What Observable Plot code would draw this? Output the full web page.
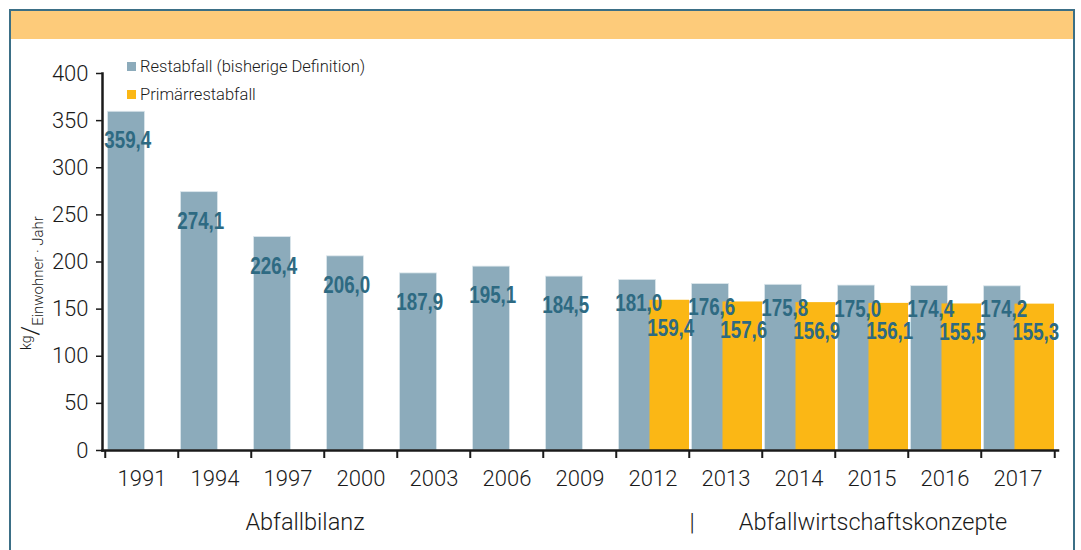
<!DOCTYPE html>
<html>
<head>
<meta charset="utf-8">
<script src="https://cdn.jsdelivr.net/npm/d3@7"></script>
<script src="https://cdn.jsdelivr.net/npm/@observablehq/plot@0.6"></script>
<style>
  html, body { margin: 0; padding: 0; background: #fff; }
  #wrap { position: relative; width: 1081px; height: 550px; overflow: hidden; }
  #frame { position: absolute; left: 9px; top: 9px; width: 1062px; height: 560px;
           border: 2px solid #3b6f86; border-bottom: none; }
  #band { position: absolute; left: 11px; top: 11px; width: 1062px; height: 28px; background: #fdcb7a; }
  #chart { position: absolute; left: 0; top: 0; }
  .leg { position: absolute; font-family: Roboto, "Liberation Sans", sans-serif; font-weight: 300;
         font-size: 16.5px; color: #1a1a1a; white-space: nowrap; line-height: 18px; }
  .leg span.sw { display: inline-block; width: 9px; height: 9px; margin-right: 4px; vertical-align: 1px; }
</style>
</head>
<body>
<div id="wrap">
  <div id="frame"></div>
  <div id="band"></div>
  <div id="chart"></div>
  <div class="leg" style="left:127px; top:58px;"><span class="sw" style="background:#8cabbb"></span>Restabfall (bisherige Definition)</div>
  <div class="leg" style="left:127px; top:86px;"><span class="sw" style="background:#fbb715"></span>Primärrestabfall</div>
</div>
<script>
const years = ["1991","1994","1997","2000","2003","2006","2009","2012","2013","2014","2015","2016","2017"];
const restabfall = [359.4, 274.1, 226.4, 206.0, 187.9, 195.1, 184.5, 181.0, 176.6, 175.8, 175.0, 174.4, 174.2];
const primaerYears = ["2012","2013","2014","2015","2016","2017"];
const primaer = [159.4, 157.6, 156.9, 156.1, 155.5, 155.3];
const yTicks = [0, 50, 100, 150, 200, 250, 300, 350, 400];

const rest = years.map((y, i) => ({year: y, value: restabfall[i], paired: primaerYears.includes(y)}));
const prim = primaerYears.map((y, i) => ({year: y, value: primaer[i]}));
const fmt = v => v.toFixed(1).replace(".", ",");

const grey = "#8cabbb", yellow = "#fbb715", labelColor = "#2e6a82";
const numFont = "'Liberation Sans', Arial, sans-serif";
const tickFont = "Roboto, 'Liberation Sans', sans-serif";
const W = 1081, mL = 102, mR = 23.5;
const bw = (W - mL - mR) / years.length;

const chart = Plot.plot({
  width: W, height: 550,
  marginLeft: mL, marginRight: mR, marginTop: 73, marginBottom: 100,
  style: {background: "transparent", fontFamily: tickFont, color: "#1a1a1a", overflow: "visible"},
  x: {domain: years, padding: 0, axis: null},
  y: {domain: [0, 400], axis: null},
  marks: [
    Plot.barY(rest, {x: "year", y: "value", fill: grey, stroke: "#dbe6ec", strokeWidth: 0.8, insetLeft: 2.5, insetRight: bw - 40}),
    Plot.barY(prim, {x: "year", y: "value", fill: yellow, insetLeft: 33.5, insetRight: 0}),
    Plot.text(rest.filter(d => !d.paired), {x: "year", y: "value", text: d => fmt(d.value), dx: 22.5 - bw / 2, dy: 19.5,
      lineAnchor: "top", fill: labelColor, fontSize: 24, fontWeight: "bold", fontFamily: numFont}),
    Plot.text(rest.filter(d => d.paired), {x: "year", y: "value", text: d => fmt(d.value), dx: 22.5 - bw / 2, dy: 14,
      lineAnchor: "top", fill: labelColor, fontSize: 24, fontWeight: "bold", fontFamily: numFont}),
    Plot.text(prim, {x: "year", y: "value", text: d => fmt(d.value), dx: 54.5 - bw / 2, dy: 19,
      lineAnchor: "top", fill: labelColor, fontSize: 24, fontWeight: "bold", fontFamily: numFont}),
    Plot.axisY({ticks: yTicks, tickSize: 6, tickPadding: 8, tickFormat: d => d, fontSize: 22, fontWeight: 300, label: null, strokeWidth: 1.5}),
    Plot.axisX({tickSize: 8, tickFormat: () => "", dx: -bw / 2, label: null, strokeWidth: 2}),
    Plot.axisX({ticks: ["2017"], tickSize: 8, tickFormat: () => "", dx: bw / 2, label: null, strokeWidth: 2}),
    Plot.axisX({tickSize: 0, tickPadding: 20, fontSize: 22, fontWeight: 300, label: null}),
    Plot.frame({anchor: "left", strokeWidth: 2.5}),
    Plot.frame({anchor: "bottom", strokeWidth: 2.5})
  ]
});
document.getElementById("chart").appendChild(chart);

const svg = d3.select(chart);
// condensed look for the value labels
svg.selectAll('g[aria-label="text"] text')
  .attr("textLength", 47)
  .attr("lengthAdjust", "spacingAndGlyphs");

// y-axis unit label
const yl = svg.append("text")
  .attr("transform", "translate(38,283) rotate(-90)")
  .attr("text-anchor", "middle")
  .attr("font-family", tickFont)
  .attr("font-weight", 300)
  .attr("fill", "#1a1a1a");
yl.append("tspan").attr("font-size", 14).attr("dy", -7).text("kg");
yl.append("tspan").attr("font-size", 24).attr("dy", 7).text("/");
yl.append("tspan").attr("font-size", 15).attr("dy", 5).text("Einwohner · Jahr");

// group labels below the axis
const grp = [["Abfallbilanz", 305], ["|", 692], ["Abfallwirtschaftskonzepte", 873]];
svg.append("g").selectAll("text").data(grp).join("text")
  .attr("x", d => d[1]).attr("y", 530)
  .attr("text-anchor", "middle")
  .attr("font-family", tickFont).attr("font-weight", 300)
  .attr("font-size", 23.5).attr("fill", "#1a1a1a")
  .text(d => d[0]);
</script>
</body>
</html>
